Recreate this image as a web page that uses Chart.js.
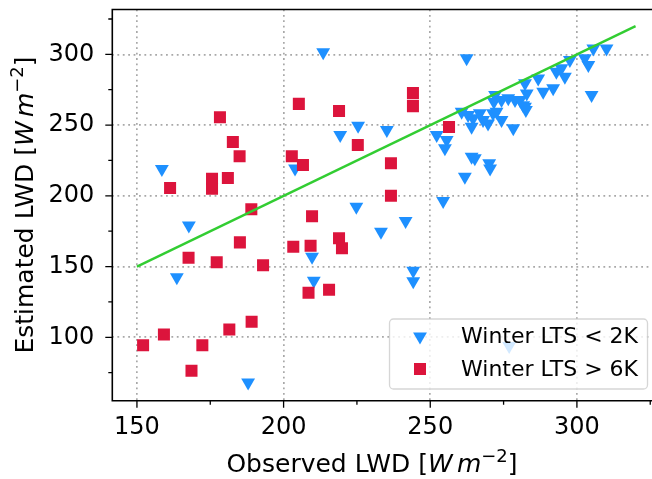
<!DOCTYPE html>
<html>
<head>
<meta charset="utf-8">
<script src="https://cdn.jsdelivr.net/npm/chart.js@4"></script>
<style>
  html, body { margin: 0; padding: 0; background: #fff; }
  #wrap { width: 652px; height: 479px; position: relative; }
</style>
</head>
<body>
<div id="wrap"><canvas id="lwdChart"></canvas></div>
<script>
// Winter LTS < 2K (observed, estimated)
const lowX = [158.5, 163.6, 167.7, 187.9, 203.9, 209.7, 210.3, 213.5, 219.3, 225.4,
  224.8, 233.2, 235.2, 241.6, 244.2, 244.2, 252.2, 255.6, 255.0, 254.4,
  261.8, 262.4, 264.1, 265.2, 270.1, 270.4, 260.7, 262.9, 264.6, 264.1,
  266.9, 268.0, 269.7, 271.4, 272.6, 274.3, 278.3, 272.1, 271.7, 274.3,
  276.6, 278.9, 280.6, 282.3, 282.9, 282.3, 281.7, 282.6, 286.8, 288.5,
  291.9, 293.0, 294.7, 295.9, 297.6, 302.7, 303.9, 305.0, 305.6, 310.1, 276.9];
const lowY = [219.0, 142.4, 179.0, 68.0, 219.4, 157.0, 140.0, 301.4, 243.0, 249.5,
  192.3, 174.6, 246.5, 182.2, 147.0, 139.6, 243.0, 239.4, 233.6, 196.3,
  213.5, 297.2, 227.6, 226.5, 223.0, 219.4, 259.4, 257.1, 254.8, 248.8,
  258.3, 253.6, 251.2, 258.3, 259.4, 253.6, 247.7, 271.2, 266.5, 267.7,
  268.9, 267.7, 267.7, 263.0, 272.4, 279.5, 264.1, 260.6, 283.0, 273.6,
  276.0, 287.7, 290.1, 284.2, 296.0, 297.2, 292.4, 271.2, 304.2, 304.2, 93.8];

// Winter LTS > 6K (observed, estimated)
const highX = [152.1, 161.3, 159.2, 168.6, 172.3, 167.6, 178.3, 182.7, 185.0, 175.6,
  175.6, 181.0, 177.2, 181.5, 185.1, 189.0, 189.1, 193.0, 202.8, 203.3,
  206.6, 205.2, 209.7, 209.2, 208.5, 215.5, 218.9, 219.9, 218.9, 225.3,
  236.6, 236.6, 244.1, 244.1, 256.4];
const highY = [94.4, 205.5, 102.0, 76.4, 94.4, 156.3, 255.6, 238.0, 228.0, 212.0,
  205.0, 212.6, 153.0, 105.6, 167.1, 190.5, 111.0, 151.0, 228.0, 164.0,
  221.8, 265.0, 185.6, 164.7, 131.5, 133.6, 170.0, 163.0, 260.0, 236.0,
  223.0, 200.0, 272.6, 263.4, 248.6];

// reference line
const refX = [150, 320];
const refY = [150, 320];

const xMajor = [150, 200, 250, 300];
const xMinor = [175, 225, 275, 325];
const yMajor = [100, 150, 200, 250, 300];
const yMinor = [75, 125, 175, 225, 275, 325];

const toPoints = (xs, ys) => xs.map((x, i) => ({ x: x, y: ys[i] }));

const BLUE = '#1e90ff';
const RED = '#dc143c';
const FONT = "'DejaVu Sans', sans-serif";

// spines and matplotlib-style major/minor tick marks
const axesFrame = {
  id: 'axesFrame',
  afterDatasetsDraw(chart) {
    const { ctx, chartArea: a, scales: { x, y } } = chart;
    ctx.save();
    ctx.strokeStyle = '#000';
    ctx.lineWidth = 1.3;
    ctx.beginPath();
    xMajor.forEach(v => { const p = x.getPixelForValue(v); ctx.moveTo(p, a.bottom); ctx.lineTo(p, a.bottom + 7); });
    xMinor.forEach(v => { const p = x.getPixelForValue(v); ctx.moveTo(p, a.bottom); ctx.lineTo(p, a.bottom + 4); });
    yMajor.forEach(v => { const p = y.getPixelForValue(v); ctx.moveTo(a.left, p); ctx.lineTo(a.left - 7, p); });
    yMinor.forEach(v => { const p = y.getPixelForValue(v); ctx.moveTo(a.left, p); ctx.lineTo(a.left - 4, p); });
    ctx.stroke();
    ctx.lineWidth = 1.6;
    ctx.beginPath();
    ctx.moveTo(a.right + 2, a.top);
    ctx.lineTo(a.left, a.top);
    ctx.lineTo(a.left, a.bottom);
    ctx.lineTo(a.right + 2, a.bottom);
    ctx.stroke();
    ctx.restore();
  }
};

// axis titles with italic units and a superscript
function drawUnitTitle(ctx, text, size) {
  const parts = [
    { t: text + ' [', font: size + 'px ' + FONT, dy: 0 },
    { t: 'W', font: 'italic ' + size + 'px ' + FONT, dy: 0 },
    { t: '', font: size + 'px ' + FONT, dy: 0, gap: 0.17 * size },
    { t: 'm', font: 'italic ' + size + 'px ' + FONT, dy: 0 },
    { t: '\u22122', font: Math.round(size * 0.7) + 'px ' + FONT, dy: -0.4 * size },
    { t: ']', font: size + 'px ' + FONT, dy: 0 }
  ];
  let total = 0;
  parts.forEach(p => { ctx.font = p.font; p.w = p.gap || ctx.measureText(p.t).width; total += p.w; });
  let cx = -total / 2;
  ctx.textAlign = 'left';
  ctx.textBaseline = 'alphabetic';
  parts.forEach(p => { ctx.font = p.font; if (p.t) ctx.fillText(p.t, cx, p.dy); cx += p.w; });
}

const axisTitles = {
  id: 'axisTitles',
  afterDraw(chart) {
    const { ctx } = chart;
    ctx.save();
    ctx.fillStyle = '#000';
    ctx.translate(372, 472);
    drawUnitTitle(ctx, 'Observed LWD', 25);
    ctx.restore();
    ctx.save();
    ctx.fillStyle = '#000';
    ctx.translate(33, 205);
    ctx.rotate(-Math.PI / 2);
    drawUnitTitle(ctx, 'Estimated LWD', 25);
    ctx.restore();
  }
};

// legend box in the lower right of the axes
const seriesLegend = {
  id: 'seriesLegend',
  afterDraw(chart) {
    const { ctx } = chart;
    const bx = 389.5, by = 319, bw = 258, bh = 70;
    ctx.save();
    ctx.beginPath();
    ctx.roundRect(bx, by, bw, bh, 4);
    ctx.fillStyle = 'rgba(255,255,255,0.8)';
    ctx.fill();
    ctx.lineWidth = 1.3;
    ctx.strokeStyle = 'rgba(204,204,204,0.8)';
    ctx.stroke();
    const rows = [
      { label: 'Winter LTS < 2K', style: 'triangle', rotation: 180, radius: 8, color: BLUE, y: 336.5 },
      { label: 'Winter LTS > 6K', style: 'rect', rotation: 0, radius: 8.5, color: RED, y: 369 }
    ];
    rows.forEach(r => {
      ctx.fillStyle = r.color;
      ctx.strokeStyle = r.color;
      Chart.helpers.drawPoint(ctx, { pointStyle: r.style, rotation: r.rotation, radius: r.radius, borderWidth: 0 }, 420, r.y);
      ctx.fillStyle = '#000';
      ctx.font = '22px ' + FONT;
      ctx.textAlign = 'left';
      ctx.textBaseline = 'middle';
      ctx.fillText(r.label, 461, r.y + 1);
    });
    ctx.restore();
  }
};

const gridStyle = {
  color: '#a8a8a8',
  lineWidth: 1.7,
  drawTicks: false
};

new Chart(document.getElementById('lwdChart'), {
  type: 'scatter',
  data: {
    datasets: [
      {
        type: 'line',
        data: toPoints(refX, refY),
        borderColor: '#32cd32',
        borderWidth: 2.4,
        pointRadius: 0,
        fill: false
      },
      {
        label: 'Winter LTS > 6K',
        data: toPoints(highX, highY),
        pointStyle: 'rect',
        pointRadius: 8.5,
        backgroundColor: RED,
        borderWidth: 0
      },
      {
        label: 'Winter LTS < 2K',
        data: toPoints(lowX, lowY),
        pointStyle: 'triangle',
        rotation: 180,
        pointRadius: 8,
        backgroundColor: BLUE,
        borderWidth: 0
      }
    ]
  },
  options: {
    responsive: true,
    maintainAspectRatio: false,
    animation: false,
    events: [],
    layout: { autoPadding: false, padding: { top: 9.5, right: 0, left: 0, bottom: 0 } },
    plugins: {
      legend: { display: false },
      tooltip: { enabled: false }
    },
    scales: {
      x: {
        type: 'linear',
        min: 141.6,
        max: 325.6,
        grid: gridStyle,
        border: { display: false, dash: [1.8, 3.6] },
        ticks: {
          stepSize: 50,
          includeBounds: false,
          color: '#000',
          padding: 13,
          maxRotation: 0,
          font: { family: FONT, size: 24 }
        },
        afterFit(scale) {
          scale.height = 78.3;
          scale.paddingLeft = 0;
          scale.paddingRight = 0;
        }
      },
      y: {
        type: 'linear',
        min: 55.2,
        max: 331.7,
        grid: gridStyle,
        border: { display: false, dash: [1.8, 3.6] },
        ticks: {
          stepSize: 50,
          includeBounds: false,
          color: '#000',
          padding: 18,
          font: { family: FONT, size: 24 }
        },
        afterFit(scale) {
          scale.width = 112.3;
          scale.paddingTop = 0;
          scale.paddingBottom = 0;
        }
      }
    }
  },
  plugins: [axesFrame, axisTitles, seriesLegend]
});
</script>
</body>
</html>
